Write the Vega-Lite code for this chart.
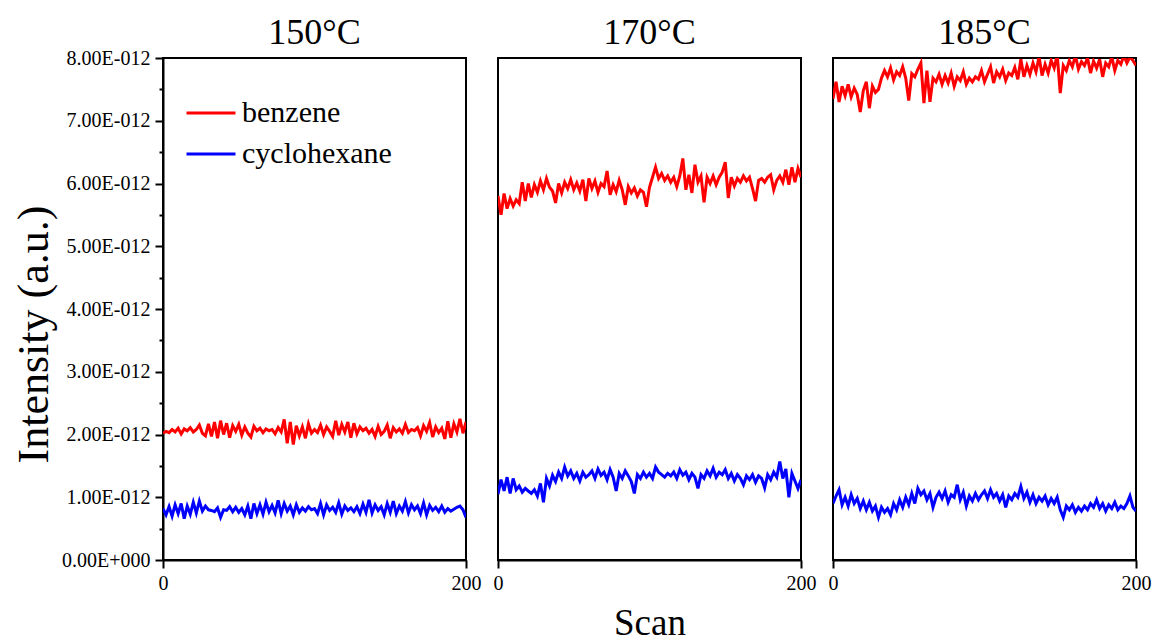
{
"$schema":"https://vega.github.io/schema/vega-lite/v6.json",
"padding":{"left":11,"top":14,"right":5,"bottom":0},
"background":"white",
"bounds":"flush",
"spacing":32,
"datasets":{"scans":[
{"T":"150°C","Scan":0,"benzene":2.02,"cyclohexane":0.82},{"T":"150°C","Scan":2,"benzene":2.05,"cyclohexane":0.72},{"T":"150°C","Scan":4,"benzene":2.03,"cyclohexane":0.85},{"T":"150°C","Scan":6,"benzene":2.08,"cyclohexane":0.70},{"T":"150°C","Scan":8,"benzene":2.04,"cyclohexane":0.88},{"T":"150°C","Scan":10,"benzene":2.10,"cyclohexane":0.74},{"T":"150°C","Scan":12,"benzene":2.01,"cyclohexane":0.90},{"T":"150°C","Scan":14,"benzene":2.09,"cyclohexane":0.66},{"T":"150°C","Scan":16,"benzene":2.06,"cyclohexane":0.86},{"T":"150°C","Scan":18,"benzene":2.11,"cyclohexane":0.73},
{"T":"150°C","Scan":20,"benzene":2.04,"cyclohexane":0.92},{"T":"150°C","Scan":22,"benzene":2.08,"cyclohexane":0.75},{"T":"150°C","Scan":24,"benzene":2.15,"cyclohexane":0.94},{"T":"150°C","Scan":26,"benzene":2.02,"cyclohexane":0.78},{"T":"150°C","Scan":28,"benzene":1.98,"cyclohexane":0.86},{"T":"150°C","Scan":30,"benzene":2.17,"cyclohexane":0.80},{"T":"150°C","Scan":32,"benzene":1.97,"cyclohexane":0.79},{"T":"150°C","Scan":34,"benzene":2.20,"cyclohexane":0.77},{"T":"150°C","Scan":36,"benzene":1.94,"cyclohexane":0.83},{"T":"150°C","Scan":38,"benzene":2.22,"cyclohexane":0.68},
{"T":"150°C","Scan":40,"benzene":2.00,"cyclohexane":0.80},{"T":"150°C","Scan":42,"benzene":2.18,"cyclohexane":0.79},{"T":"150°C","Scan":44,"benzene":1.95,"cyclohexane":0.85},{"T":"150°C","Scan":46,"benzene":2.14,"cyclohexane":0.77},{"T":"150°C","Scan":48,"benzene":2.05,"cyclohexane":0.84},{"T":"150°C","Scan":50,"benzene":2.16,"cyclohexane":0.76},{"T":"150°C","Scan":52,"benzene":1.99,"cyclohexane":0.82},{"T":"150°C","Scan":54,"benzene":2.12,"cyclohexane":0.72},{"T":"150°C","Scan":56,"benzene":2.02,"cyclohexane":0.86},{"T":"150°C","Scan":58,"benzene":1.96,"cyclohexane":0.66},
{"T":"150°C","Scan":60,"benzene":2.13,"cyclohexane":0.90},{"T":"150°C","Scan":62,"benzene":2.06,"cyclohexane":0.74},{"T":"150°C","Scan":64,"benzene":2.10,"cyclohexane":0.88},{"T":"150°C","Scan":66,"benzene":2.03,"cyclohexane":0.73},{"T":"150°C","Scan":68,"benzene":2.09,"cyclohexane":0.92},{"T":"150°C","Scan":70,"benzene":2.06,"cyclohexane":0.77},{"T":"150°C","Scan":72,"benzene":2.08,"cyclohexane":0.87},{"T":"150°C","Scan":74,"benzene":2.01,"cyclohexane":0.75},{"T":"150°C","Scan":76,"benzene":2.11,"cyclohexane":0.95},{"T":"150°C","Scan":78,"benzene":2.04,"cyclohexane":0.74},
{"T":"150°C","Scan":80,"benzene":2.24,"cyclohexane":0.90},{"T":"150°C","Scan":82,"benzene":1.86,"cyclohexane":0.78},{"T":"150°C","Scan":84,"benzene":2.20,"cyclohexane":0.86},{"T":"150°C","Scan":86,"benzene":1.84,"cyclohexane":0.72},{"T":"150°C","Scan":88,"benzene":2.14,"cyclohexane":0.88},{"T":"150°C","Scan":90,"benzene":1.98,"cyclohexane":0.76},{"T":"150°C","Scan":92,"benzene":2.12,"cyclohexane":0.83},{"T":"150°C","Scan":94,"benzene":1.94,"cyclohexane":0.78},{"T":"150°C","Scan":96,"benzene":2.17,"cyclohexane":0.85},{"T":"150°C","Scan":98,"benzene":2.02,"cyclohexane":0.80},
{"T":"150°C","Scan":100,"benzene":2.08,"cyclohexane":0.82},{"T":"150°C","Scan":102,"benzene":2.03,"cyclohexane":0.74},{"T":"150°C","Scan":104,"benzene":2.15,"cyclohexane":0.90},{"T":"150°C","Scan":106,"benzene":2.00,"cyclohexane":0.72},{"T":"150°C","Scan":108,"benzene":2.12,"cyclohexane":0.88},{"T":"150°C","Scan":110,"benzene":2.05,"cyclohexane":0.79},{"T":"150°C","Scan":112,"benzene":1.97,"cyclohexane":0.84},{"T":"150°C","Scan":114,"benzene":2.22,"cyclohexane":0.76},{"T":"150°C","Scan":116,"benzene":1.99,"cyclohexane":0.91},{"T":"150°C","Scan":118,"benzene":2.16,"cyclohexane":0.73},
{"T":"150°C","Scan":120,"benzene":2.04,"cyclohexane":0.86},{"T":"150°C","Scan":122,"benzene":2.20,"cyclohexane":0.79},{"T":"150°C","Scan":124,"benzene":1.95,"cyclohexane":0.83},{"T":"150°C","Scan":126,"benzene":2.18,"cyclohexane":0.77},{"T":"150°C","Scan":128,"benzene":2.01,"cyclohexane":0.85},{"T":"150°C","Scan":130,"benzene":2.12,"cyclohexane":0.74},{"T":"150°C","Scan":132,"benzene":2.06,"cyclohexane":0.89},{"T":"150°C","Scan":134,"benzene":2.10,"cyclohexane":0.76},{"T":"150°C","Scan":136,"benzene":2.02,"cyclohexane":0.96},{"T":"150°C","Scan":138,"benzene":2.08,"cyclohexane":0.75},
{"T":"150°C","Scan":140,"benzene":1.97,"cyclohexane":0.88},{"T":"150°C","Scan":142,"benzene":2.13,"cyclohexane":0.79},{"T":"150°C","Scan":144,"benzene":2.00,"cyclohexane":0.85},{"T":"150°C","Scan":146,"benzene":2.05,"cyclohexane":0.72},{"T":"150°C","Scan":148,"benzene":2.15,"cyclohexane":0.90},{"T":"150°C","Scan":150,"benzene":1.94,"cyclohexane":0.76},{"T":"150°C","Scan":152,"benzene":2.11,"cyclohexane":0.94},{"T":"150°C","Scan":154,"benzene":2.04,"cyclohexane":0.74},{"T":"150°C","Scan":156,"benzene":2.09,"cyclohexane":0.86},{"T":"150°C","Scan":158,"benzene":2.02,"cyclohexane":0.78},
{"T":"150°C","Scan":160,"benzene":2.16,"cyclohexane":0.93},{"T":"150°C","Scan":162,"benzene":2.03,"cyclohexane":0.75},{"T":"150°C","Scan":164,"benzene":2.08,"cyclohexane":0.88},{"T":"150°C","Scan":166,"benzene":2.06,"cyclohexane":0.80},{"T":"150°C","Scan":168,"benzene":2.11,"cyclohexane":0.86},{"T":"150°C","Scan":170,"benzene":1.98,"cyclohexane":0.74},{"T":"150°C","Scan":172,"benzene":2.14,"cyclohexane":0.91},{"T":"150°C","Scan":174,"benzene":2.05,"cyclohexane":0.72},{"T":"150°C","Scan":176,"benzene":2.19,"cyclohexane":0.87},{"T":"150°C","Scan":178,"benzene":1.96,"cyclohexane":0.79},
{"T":"150°C","Scan":180,"benzene":2.12,"cyclohexane":0.84},{"T":"150°C","Scan":182,"benzene":2.03,"cyclohexane":0.77},{"T":"150°C","Scan":184,"benzene":2.10,"cyclohexane":0.86},{"T":"150°C","Scan":186,"benzene":1.93,"cyclohexane":0.76},{"T":"150°C","Scan":188,"benzene":2.21,"cyclohexane":0.82},{"T":"150°C","Scan":190,"benzene":1.95,"cyclohexane":0.78},{"T":"150°C","Scan":192,"benzene":2.17,"cyclohexane":0.81},{"T":"150°C","Scan":194,"benzene":2.04,"cyclohexane":0.84},{"T":"150°C","Scan":196,"benzene":2.25,"cyclohexane":0.86},{"T":"150°C","Scan":198,"benzene":2.02,"cyclohexane":0.80},
{"T":"150°C","Scan":200,"benzene":2.20,"cyclohexane":0.68},
{"T":"170°C","Scan":0,"benzene":5.80,"cyclohexane":1.05},{"T":"170°C","Scan":2,"benzene":5.50,"cyclohexane":1.28},{"T":"170°C","Scan":4,"benzene":5.84,"cyclohexane":1.10},{"T":"170°C","Scan":6,"benzene":5.60,"cyclohexane":1.32},{"T":"170°C","Scan":8,"benzene":5.76,"cyclohexane":1.06},{"T":"170°C","Scan":10,"benzene":5.64,"cyclohexane":1.30},{"T":"170°C","Scan":12,"benzene":5.74,"cyclohexane":1.12},{"T":"170°C","Scan":14,"benzene":5.68,"cyclohexane":1.18},{"T":"170°C","Scan":16,"benzene":6.02,"cyclohexane":1.08},{"T":"170°C","Scan":18,"benzene":5.72,"cyclohexane":1.14},
{"T":"170°C","Scan":20,"benzene":6.00,"cyclohexane":1.10},{"T":"170°C","Scan":22,"benzene":5.78,"cyclohexane":1.06},{"T":"170°C","Scan":24,"benzene":5.98,"cyclohexane":1.12},{"T":"170°C","Scan":26,"benzene":5.86,"cyclohexane":1.02},{"T":"170°C","Scan":28,"benzene":6.04,"cyclohexane":1.22},{"T":"170°C","Scan":30,"benzene":5.90,"cyclohexane":0.92},{"T":"170°C","Scan":32,"benzene":6.08,"cyclohexane":1.30},{"T":"170°C","Scan":34,"benzene":5.94,"cyclohexane":1.18},{"T":"170°C","Scan":36,"benzene":5.88,"cyclohexane":1.35},{"T":"170°C","Scan":38,"benzene":5.69,"cyclohexane":1.25},
{"T":"170°C","Scan":40,"benzene":6.00,"cyclohexane":1.40},{"T":"170°C","Scan":42,"benzene":5.85,"cyclohexane":1.30},{"T":"170°C","Scan":44,"benzene":6.02,"cyclohexane":1.48},{"T":"170°C","Scan":46,"benzene":5.92,"cyclohexane":1.34},{"T":"170°C","Scan":48,"benzene":6.06,"cyclohexane":1.42},{"T":"170°C","Scan":50,"benzene":5.90,"cyclohexane":1.30},{"T":"170°C","Scan":52,"benzene":6.01,"cyclohexane":1.38},{"T":"170°C","Scan":54,"benzene":5.88,"cyclohexane":1.26},{"T":"170°C","Scan":56,"benzene":6.06,"cyclohexane":1.40},{"T":"170°C","Scan":58,"benzene":5.72,"cyclohexane":1.32},
{"T":"170°C","Scan":60,"benzene":6.08,"cyclohexane":1.36},{"T":"170°C","Scan":62,"benzene":5.92,"cyclohexane":1.42},{"T":"170°C","Scan":64,"benzene":6.04,"cyclohexane":1.30},{"T":"170°C","Scan":66,"benzene":5.86,"cyclohexane":1.45},{"T":"170°C","Scan":68,"benzene":6.00,"cyclohexane":1.35},{"T":"170°C","Scan":70,"benzene":5.95,"cyclohexane":1.40},{"T":"170°C","Scan":72,"benzene":6.20,"cyclohexane":1.28},{"T":"170°C","Scan":74,"benzene":5.82,"cyclohexane":1.44},{"T":"170°C","Scan":76,"benzene":5.98,"cyclohexane":1.32},{"T":"170°C","Scan":78,"benzene":5.87,"cyclohexane":1.10},
{"T":"170°C","Scan":80,"benzene":6.05,"cyclohexane":1.38},{"T":"170°C","Scan":82,"benzene":5.90,"cyclohexane":1.30},{"T":"170°C","Scan":84,"benzene":5.66,"cyclohexane":1.42},{"T":"170°C","Scan":86,"benzene":5.95,"cyclohexane":1.34},{"T":"170°C","Scan":88,"benzene":5.85,"cyclohexane":1.25},{"T":"170°C","Scan":90,"benzene":5.93,"cyclohexane":1.06},{"T":"170°C","Scan":92,"benzene":5.80,"cyclohexane":1.36},{"T":"170°C","Scan":94,"benzene":5.90,"cyclohexane":1.30},{"T":"170°C","Scan":96,"benzene":5.86,"cyclohexane":1.40},{"T":"170°C","Scan":98,"benzene":5.63,"cyclohexane":1.32},
{"T":"170°C","Scan":100,"benzene":5.94,"cyclohexane":1.38},{"T":"170°C","Scan":102,"benzene":6.10,"cyclohexane":1.30},{"T":"170°C","Scan":104,"benzene":6.26,"cyclohexane":1.48},{"T":"170°C","Scan":106,"benzene":6.08,"cyclohexane":1.40},{"T":"170°C","Scan":108,"benzene":6.16,"cyclohexane":1.36},{"T":"170°C","Scan":110,"benzene":6.05,"cyclohexane":1.32},{"T":"170°C","Scan":112,"benzene":6.12,"cyclohexane":1.38},{"T":"170°C","Scan":114,"benzene":6.02,"cyclohexane":1.34},{"T":"170°C","Scan":116,"benzene":6.10,"cyclohexane":1.40},{"T":"170°C","Scan":118,"benzene":5.95,"cyclohexane":1.30},
{"T":"170°C","Scan":120,"benzene":6.12,"cyclohexane":1.44},{"T":"170°C","Scan":122,"benzene":6.40,"cyclohexane":1.35},{"T":"170°C","Scan":124,"benzene":5.90,"cyclohexane":1.40},{"T":"170°C","Scan":126,"benzene":6.14,"cyclohexane":1.28},{"T":"170°C","Scan":128,"benzene":5.85,"cyclohexane":1.38},{"T":"170°C","Scan":130,"benzene":6.30,"cyclohexane":1.32},{"T":"170°C","Scan":132,"benzene":6.02,"cyclohexane":1.14},{"T":"170°C","Scan":134,"benzene":6.12,"cyclohexane":1.36},{"T":"170°C","Scan":136,"benzene":5.70,"cyclohexane":1.30},{"T":"170°C","Scan":138,"benzene":6.10,"cyclohexane":1.42},
{"T":"170°C","Scan":140,"benzene":6.00,"cyclohexane":1.34},{"T":"170°C","Scan":142,"benzene":6.12,"cyclohexane":1.46},{"T":"170°C","Scan":144,"benzene":5.98,"cyclohexane":1.32},{"T":"170°C","Scan":146,"benzene":6.10,"cyclohexane":1.40},{"T":"170°C","Scan":148,"benzene":6.18,"cyclohexane":1.36},{"T":"170°C","Scan":150,"benzene":6.34,"cyclohexane":1.44},{"T":"170°C","Scan":152,"benzene":5.77,"cyclohexane":1.30},{"T":"170°C","Scan":154,"benzene":6.10,"cyclohexane":1.38},{"T":"170°C","Scan":156,"benzene":5.96,"cyclohexane":1.26},{"T":"170°C","Scan":158,"benzene":6.08,"cyclohexane":1.36},
{"T":"170°C","Scan":160,"benzene":6.02,"cyclohexane":1.30},{"T":"170°C","Scan":162,"benzene":6.12,"cyclohexane":1.20},{"T":"170°C","Scan":164,"benzene":6.04,"cyclohexane":1.34},{"T":"170°C","Scan":166,"benzene":6.10,"cyclohexane":1.28},{"T":"170°C","Scan":168,"benzene":5.92,"cyclohexane":1.36},{"T":"170°C","Scan":170,"benzene":5.72,"cyclohexane":1.24},{"T":"170°C","Scan":172,"benzene":6.05,"cyclohexane":1.34},{"T":"170°C","Scan":174,"benzene":6.08,"cyclohexane":1.30},{"T":"170°C","Scan":176,"benzene":6.02,"cyclohexane":1.15},{"T":"170°C","Scan":178,"benzene":6.10,"cyclohexane":1.36},
{"T":"170°C","Scan":180,"benzene":6.14,"cyclohexane":1.28},{"T":"170°C","Scan":182,"benzene":5.90,"cyclohexane":1.40},{"T":"170°C","Scan":184,"benzene":6.05,"cyclohexane":1.32},{"T":"170°C","Scan":186,"benzene":6.12,"cyclohexane":1.57},{"T":"170°C","Scan":188,"benzene":6.02,"cyclohexane":1.30},{"T":"170°C","Scan":190,"benzene":6.22,"cyclohexane":1.45},{"T":"170°C","Scan":192,"benzene":5.98,"cyclohexane":1.00},{"T":"170°C","Scan":194,"benzene":6.26,"cyclohexane":1.38},{"T":"170°C","Scan":196,"benzene":6.02,"cyclohexane":1.26},{"T":"170°C","Scan":198,"benzene":6.24,"cyclohexane":1.14},
{"T":"170°C","Scan":200,"benzene":6.10,"cyclohexane":1.28},
{"T":"185°C","Scan":0,"benzene":7.35,"cyclohexane":0.90},{"T":"185°C","Scan":2,"benzene":7.62,"cyclohexane":1.02},{"T":"185°C","Scan":4,"benzene":7.30,"cyclohexane":1.12},{"T":"185°C","Scan":6,"benzene":7.55,"cyclohexane":0.88},{"T":"185°C","Scan":8,"benzene":7.40,"cyclohexane":1.00},{"T":"185°C","Scan":10,"benzene":7.58,"cyclohexane":0.86},{"T":"185°C","Scan":12,"benzene":7.38,"cyclohexane":1.04},{"T":"185°C","Scan":14,"benzene":7.52,"cyclohexane":0.90},{"T":"185°C","Scan":16,"benzene":7.42,"cyclohexane":0.98},{"T":"185°C","Scan":18,"benzene":7.14,"cyclohexane":0.82},
{"T":"185°C","Scan":20,"benzene":7.48,"cyclohexane":0.94},{"T":"185°C","Scan":22,"benzene":7.62,"cyclohexane":0.80},{"T":"185°C","Scan":24,"benzene":7.20,"cyclohexane":0.92},{"T":"185°C","Scan":26,"benzene":7.55,"cyclohexane":0.78},{"T":"185°C","Scan":28,"benzene":7.45,"cyclohexane":0.86},{"T":"185°C","Scan":30,"benzene":7.50,"cyclohexane":0.68},{"T":"185°C","Scan":32,"benzene":7.68,"cyclohexane":0.84},{"T":"185°C","Scan":34,"benzene":7.80,"cyclohexane":0.76},{"T":"185°C","Scan":36,"benzene":7.70,"cyclohexane":0.82},{"T":"185°C","Scan":38,"benzene":7.84,"cyclohexane":0.72},
{"T":"185°C","Scan":40,"benzene":7.65,"cyclohexane":0.90},{"T":"185°C","Scan":42,"benzene":7.78,"cyclohexane":0.80},{"T":"185°C","Scan":44,"benzene":7.72,"cyclohexane":0.96},{"T":"185°C","Scan":46,"benzene":7.86,"cyclohexane":0.84},{"T":"185°C","Scan":48,"benzene":7.68,"cyclohexane":1.00},{"T":"185°C","Scan":50,"benzene":7.32,"cyclohexane":0.88},{"T":"185°C","Scan":52,"benzene":7.75,"cyclohexane":1.06},{"T":"185°C","Scan":54,"benzene":7.70,"cyclohexane":0.90},{"T":"185°C","Scan":56,"benzene":7.82,"cyclohexane":1.14},{"T":"185°C","Scan":58,"benzene":7.92,"cyclohexane":1.04},
{"T":"185°C","Scan":60,"benzene":7.28,"cyclohexane":1.10},{"T":"185°C","Scan":62,"benzene":7.80,"cyclohexane":0.96},{"T":"185°C","Scan":64,"benzene":7.30,"cyclohexane":1.06},{"T":"185°C","Scan":66,"benzene":7.68,"cyclohexane":0.84},{"T":"185°C","Scan":68,"benzene":7.62,"cyclohexane":1.00},{"T":"185°C","Scan":70,"benzene":7.74,"cyclohexane":1.08},{"T":"185°C","Scan":72,"benzene":7.58,"cyclohexane":0.98},{"T":"185°C","Scan":74,"benzene":7.72,"cyclohexane":1.10},{"T":"185°C","Scan":76,"benzene":7.60,"cyclohexane":0.92},{"T":"185°C","Scan":78,"benzene":7.76,"cyclohexane":1.04},
{"T":"185°C","Scan":80,"benzene":7.55,"cyclohexane":1.00},{"T":"185°C","Scan":82,"benzene":7.70,"cyclohexane":1.20},{"T":"185°C","Scan":84,"benzene":7.64,"cyclohexane":0.96},{"T":"185°C","Scan":86,"benzene":7.78,"cyclohexane":1.08},{"T":"185°C","Scan":88,"benzene":7.58,"cyclohexane":0.86},{"T":"185°C","Scan":90,"benzene":7.68,"cyclohexane":1.02},{"T":"185°C","Scan":92,"benzene":7.62,"cyclohexane":0.94},{"T":"185°C","Scan":94,"benzene":7.70,"cyclohexane":1.06},{"T":"185°C","Scan":96,"benzene":7.66,"cyclohexane":0.96},{"T":"185°C","Scan":98,"benzene":7.80,"cyclohexane":1.04},
{"T":"185°C","Scan":100,"benzene":7.62,"cyclohexane":1.10},{"T":"185°C","Scan":102,"benzene":7.74,"cyclohexane":0.98},{"T":"185°C","Scan":104,"benzene":7.86,"cyclohexane":1.12},{"T":"185°C","Scan":106,"benzene":7.60,"cyclohexane":1.00},{"T":"185°C","Scan":108,"benzene":7.78,"cyclohexane":1.06},{"T":"185°C","Scan":110,"benzene":7.70,"cyclohexane":0.94},{"T":"185°C","Scan":112,"benzene":7.82,"cyclohexane":1.04},{"T":"185°C","Scan":114,"benzene":7.64,"cyclohexane":0.84},{"T":"185°C","Scan":116,"benzene":7.76,"cyclohexane":1.02},{"T":"185°C","Scan":118,"benzene":7.72,"cyclohexane":0.96},
{"T":"185°C","Scan":120,"benzene":7.85,"cyclohexane":1.06},{"T":"185°C","Scan":122,"benzene":7.66,"cyclohexane":1.00},{"T":"185°C","Scan":124,"benzene":7.98,"cyclohexane":1.17},{"T":"185°C","Scan":126,"benzene":7.70,"cyclohexane":0.98},{"T":"185°C","Scan":128,"benzene":7.88,"cyclohexane":1.08},{"T":"185°C","Scan":130,"benzene":7.74,"cyclohexane":0.92},{"T":"185°C","Scan":132,"benzene":7.92,"cyclohexane":1.04},{"T":"185°C","Scan":134,"benzene":7.78,"cyclohexane":0.90},{"T":"185°C","Scan":136,"benzene":8.02,"cyclohexane":1.00},{"T":"185°C","Scan":138,"benzene":7.72,"cyclohexane":0.94},
{"T":"185°C","Scan":140,"benzene":7.90,"cyclohexane":1.02},{"T":"185°C","Scan":142,"benzene":7.76,"cyclohexane":0.88},{"T":"185°C","Scan":144,"benzene":7.96,"cyclohexane":0.98},{"T":"185°C","Scan":146,"benzene":7.84,"cyclohexane":0.90},{"T":"185°C","Scan":148,"benzene":8.05,"cyclohexane":1.00},{"T":"185°C","Scan":150,"benzene":7.44,"cyclohexane":0.80},{"T":"185°C","Scan":152,"benzene":7.88,"cyclohexane":0.68},{"T":"185°C","Scan":154,"benzene":7.80,"cyclohexane":0.86},{"T":"185°C","Scan":156,"benzene":7.96,"cyclohexane":0.80},{"T":"185°C","Scan":158,"benzene":7.86,"cyclohexane":0.88},
{"T":"185°C","Scan":160,"benzene":8.04,"cyclohexane":0.76},{"T":"185°C","Scan":162,"benzene":7.82,"cyclohexane":0.84},{"T":"185°C","Scan":164,"benzene":7.94,"cyclohexane":0.78},{"T":"185°C","Scan":166,"benzene":7.88,"cyclohexane":0.86},{"T":"185°C","Scan":168,"benzene":8.00,"cyclohexane":0.80},{"T":"185°C","Scan":170,"benzene":7.76,"cyclohexane":0.90},{"T":"185°C","Scan":172,"benzene":7.95,"cyclohexane":0.84},{"T":"185°C","Scan":174,"benzene":7.84,"cyclohexane":0.96},{"T":"185°C","Scan":176,"benzene":7.98,"cyclohexane":0.82},{"T":"185°C","Scan":178,"benzene":7.70,"cyclohexane":0.90},
{"T":"185°C","Scan":180,"benzene":7.92,"cyclohexane":0.78},{"T":"185°C","Scan":182,"benzene":7.86,"cyclohexane":0.88},{"T":"185°C","Scan":184,"benzene":8.02,"cyclohexane":0.82},{"T":"185°C","Scan":186,"benzene":7.80,"cyclohexane":0.92},{"T":"185°C","Scan":188,"benzene":7.96,"cyclohexane":0.80},{"T":"185°C","Scan":190,"benzene":7.90,"cyclohexane":0.86},{"T":"185°C","Scan":192,"benzene":8.04,"cyclohexane":0.82},{"T":"185°C","Scan":194,"benzene":7.92,"cyclohexane":0.90},{"T":"185°C","Scan":196,"benzene":8.02,"cyclohexane":1.02},{"T":"185°C","Scan":198,"benzene":7.96,"cyclohexane":0.84},
{"T":"185°C","Scan":200,"benzene":7.88,"cyclohexane":0.78}
]},
"hconcat":[
{
  "title":{"text":"150°C","frame":"group","offset":-4},
  "data":{"name":"scans"},
  "transform":[{"filter":"datum.T === '150°C'"},{"fold":["benzene","cyclohexane"],"as":["series","intensity"]}],
  "width":303,"height":502,
  "mark":{"type":"line","strokeWidth":3,"clip":true},
  "encoding":{
    "x":{"field":"Scan","type":"quantitative","scale":{"domain":[0,200],"nice":false,"zero":false},
      "axis":{"title":null,"values":[0,200]}},
    "y":{"field":"intensity","type":"quantitative","scale":{"domain":[0,8],"nice":false},
      "axis":{"title":"Intensity (a.u.)","values":[0,0.5,1,1.5,2,2.5,3,3.5,4,4.5,5,5.5,6,6.5,7,7.5,8],
        "labelExpr":"datum.value % 1 ? '' : (datum.value == 0 ? '0.00E+000' : format(datum.value, '.2f') + 'E-012')",
        "tickSize":{"condition":{"test":"datum.value % 1 === 0","value":8},"value":4},
        "labelPadding":5,"titlePadding":5,"titleY":276,"titleFontSize":44}},
    "color":{"field":"series","type":"nominal","scale":{"domain":["benzene","cyclohexane"],"range":["#ff0000","#0000ff"]},
      "legend":{"title":null,"orient":"none","legendX":22,"legendY":29,"symbolType":"stroke","symbolSize":2400,"symbolStrokeWidth":3,
        "labelFont":"Liberation Serif","labelFontSize":30,"labelColor":"black","rowPadding":-25,"labelOffset":5}}
  }
},
{
  "title":{"text":"170°C","frame":"group","offset":6},
  "data":{"name":"scans"},
  "transform":[{"filter":"datum.T === '170°C'"},{"fold":["benzene","cyclohexane"],"as":["series","intensity"]}],
  "width":303,"height":502,
  "mark":{"type":"line","strokeWidth":3,"clip":true},
  "encoding":{
    "x":{"field":"Scan","type":"quantitative","scale":{"domain":[0,200],"nice":false,"zero":false},
      "axis":{"title":"Scan","values":[0,200],"titleFontSize":37,"titlePadding":12}},
    "y":{"field":"intensity","type":"quantitative","scale":{"domain":[0,8],"nice":false},"axis":null},
    "color":{"field":"series","type":"nominal","scale":{"domain":["benzene","cyclohexane"],"range":["#ff0000","#0000ff"]},"legend":null}
  }
},
{
  "title":{"text":"185°C","frame":"group","offset":6},
  "data":{"name":"scans"},
  "transform":[{"filter":"datum.T === '185°C'"},{"fold":["benzene","cyclohexane"],"as":["series","intensity"]}],
  "width":303,"height":502,
  "mark":{"type":"line","strokeWidth":3,"clip":true},
  "encoding":{
    "x":{"field":"Scan","type":"quantitative","scale":{"domain":[0,200],"nice":false,"zero":false},
      "axis":{"title":null,"values":[0,200]}},
    "y":{"field":"intensity","type":"quantitative","scale":{"domain":[0,8],"nice":false},"axis":null},
    "color":{"field":"series","type":"nominal","scale":{"domain":["benzene","cyclohexane"],"range":["#ff0000","#0000ff"]},"legend":null}
  }
}
],
"resolve":{"legend":{"color":"independent"}},
"config":{
  "view":{"stroke":"black","strokeWidth":2},
  "title":{"font":"Liberation Serif","fontSize":36,"fontWeight":"normal","color":"black","anchor":"middle"},
  "axis":{"grid":false,"domainColor":"black","domainWidth":2,"tickColor":"black","tickWidth":2,"tickSize":8,
    "labelFont":"Liberation Serif","labelFontSize":20,"labelColor":"black","labelFlush":false,"labelPadding":5,
    "titleFont":"Liberation Serif","titleFontWeight":"normal","titleColor":"black"}
}
}
